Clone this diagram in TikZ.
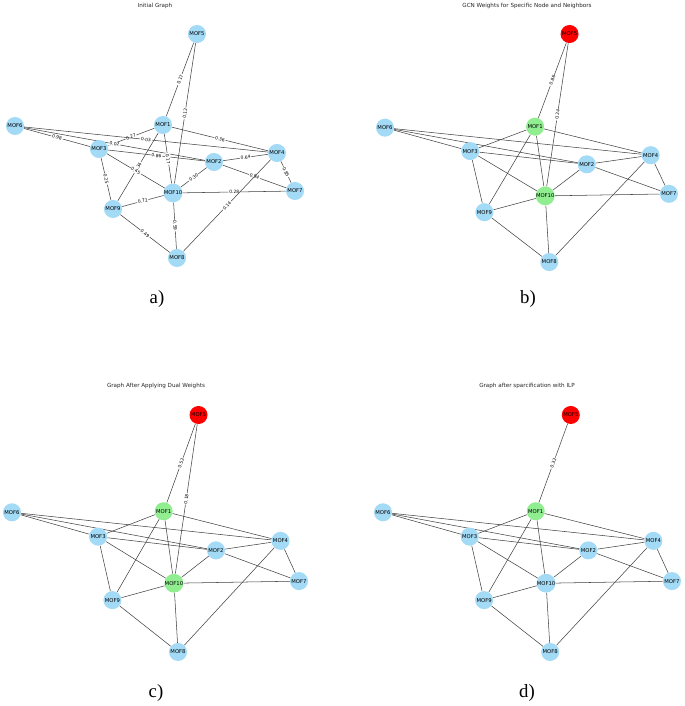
\documentclass[tikz,border=0pt]{standalone}
\usepackage{fontspec}
\setmainfont{DejaVu Sans}
\newfontfamily\capfont{Liberation Serif}
\usetikzlibrary{backgrounds}

\definecolor{mofblue}{RGB}{163,218,245}
\definecolor{mofgreen}{RGB}{144,238,144}
\definecolor{mofred}{RGB}{255,0,0}

\tikzset{
    mof/.style={circle, fill=mofblue, minimum size=15.4pt, inner sep=0pt,
        font=\fontsize{4.5}{5}\selectfont},
    hub/.style={mof, fill=mofgreen},
    target/.style={mof, fill=mofred},
    link/.style={draw=black!75, line width=0.45pt},
    wlab/.style={midway, sloped, fill=white, inner sep=0.7pt,
        font=\fontsize{3.8}{4}\selectfont},
    plottitle/.style={font=\fontsize{4.8}{5}\selectfont, text=black!85},
    panelcap/.style={font=\capfont\fontsize{16}{18}\selectfont}
}

% #1 prefix, #2 style MOF5, #3 style MOF1, #4 style MOF10
\newcommand{\mofgraph}[4]{%
    \node[#2] (#1-5) at (197,34) {MOF5};
    \node[#3] (#1-1) at (163,125) {MOF1};
    \node[mof] (#1-6) at (15,126) {MOF6};
    \node[mof] (#1-3) at (99,149) {MOF3};
    \node[mof] (#1-2) at (214,162) {MOF2};
    \node[mof] (#1-4) at (277,153) {MOF4};
    \node[mof] (#1-7) at (295,191) {MOF7};
    \node[#4] (#1-10) at (173,193) {MOF10};
    \node[mof] (#1-9) at (113,209) {MOF9};
    \node[mof] (#1-8) at (177,258) {MOF8};
}

% Kanten ohne Gewichte
\newcommand{\mofedges}[1]{%
    \begin{pgfonlayer}{background}
    \foreach \u/\v in {1/4,6/3,3/1,6/4,6/2,3/2,1/10,1/9,3/10,3/9,
        9/10,10/2,2/4,2/7,4/7,10/7,4/8,10/8,9/8}{
        \draw[link] (#1-\u) -- (#1-\v);}
    \end{pgfonlayer}
}

\begin{document}
\begin{tikzpicture}[x=0.03cm, y=-0.03cm]
    \useasboundingbox (0,0) rectangle (685,706);

%a) Ausgangsgraph
    \node[plottitle] (ta) at (155,6) {Initial Graph};
    \begin{scope}
        \mofgraph{a}{mof}{mof}{mof}
        \begin{pgfonlayer}{background}
        \foreach \u/\v/\w in {5/1/0.17, 5/10/0.12, 1/4/0.36, 6/3/0.98,
            3/1/0.27, 6/4/0.03, 6/2/0.02, 3/2/0.86, 1/10/0.17, 1/9/0.34,
            3/10/0.45, 3/9/0.25, 9/10/0.72, 10/2/0.30, 2/4/0.64,
            2/7/0.94, 4/7/0.85, 10/7/0.28, 4/8/0.14, 10/8/0.59, 9/8/0.49}{
            \draw[link] (a-\u) -- node[wlab] {\w} (a-\v);}
        \end{pgfonlayer}
    \end{scope}
    \node[panelcap] (ca) at (157,299) {a)};

%b) GCN-Gewichte
    \node[plottitle] (tb) at (527,6) {GCN Weights for Specific Node and Neighbors};
    \begin{scope}[shift={(369.8,-0.6)}, xscale=1.014, yscale=1.018]
        \mofgraph{b}{target}{hub}{hub}
        \mofedges{b}
        \begin{pgfonlayer}{background}
        \draw[link] (b-5) -- node[wlab] {0.86} (b-1);
        \draw[link] (b-5) -- node[wlab] {0.24} (b-10);
        \end{pgfonlayer}
    \end{scope}
    \node[panelcap] (cb) at (528,299) {b)};

%c) Duale Gewichte
    \node[plottitle] (tc) at (156,386) {Graph After Applying Dual Weights};
    \begin{scope}[shift={(-3.4,379)}, xscale=1.025, yscale=1.058]
        \mofgraph{c}{target}{hub}{hub}
        \mofedges{c}
        \begin{pgfonlayer}{background}
        \draw[link] (c-5) -- node[wlab] {0.52} (c-1);
        \draw[link] (c-5) -- node[wlab] {0.18} (c-10);
        \end{pgfonlayer}
    \end{scope}
    \node[panelcap] (cc) at (156,693) {c)};

%d) Nach ILP
    \node[plottitle] (td) at (527,386) {Graph after sparcification with ILP};
    \begin{scope}[shift={(367.5,379)}, xscale=1.032, yscale=1.058]
        \mofgraph{d}{target}{hub}{mof}
        \mofedges{d}
        \begin{pgfonlayer}{background}
        \draw[link] (d-5) -- node[wlab] {0.32} (d-1);
        \end{pgfonlayer}
    \end{scope}
    \node[panelcap] (cd) at (527,693) {d)};

\end{tikzpicture}
\end{document}
